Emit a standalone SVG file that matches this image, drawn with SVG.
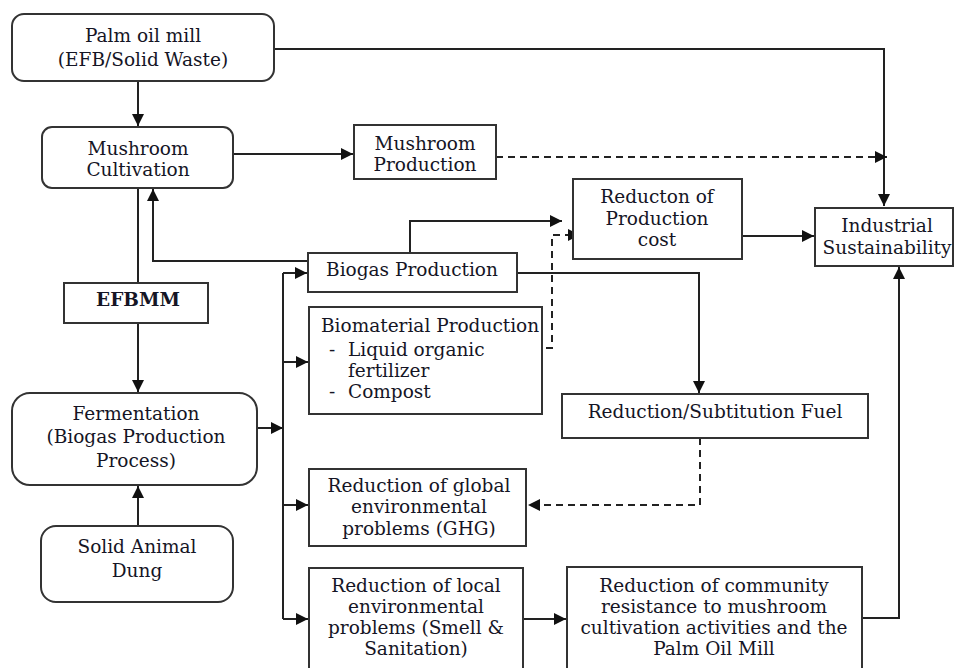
<svg xmlns="http://www.w3.org/2000/svg" width="955" height="668" viewBox="0 0 955 668">
<style>
.box{fill:#fff;stroke:#333;stroke-width:2}
.t{font-family:"DejaVu Serif","Liberation Serif","Times New Roman",serif;font-size:18.5px;fill:#151525;text-anchor:middle}
.s{text-anchor:start}
.b{font-weight:bold}
.c{fill:none;stroke:#222;stroke-width:2}
.d{stroke-dasharray:7,5}
</style>
<defs>
<marker id="ah" markerUnits="userSpaceOnUse" markerWidth="13" markerHeight="12" refX="12" refY="6" orient="auto">
<path d="M0,0 L12,6 L0,12 z" fill="#111"/>
</marker>
</defs>
<rect width="955" height="668" fill="#fff"/>
<g id="connectors">
<path class="c" d="M138,81 V126" marker-end="url(#ah)"/>
<path class="c" d="M274,49 H884 V206" marker-end="url(#ah)"/>
<path class="c" d="M233,154 H353" marker-end="url(#ah)"/>
<path class="c d" d="M496,157 H887" marker-end="url(#ah)"/>
<path class="c" d="M308,261 H153 V189" marker-end="url(#ah)"/>
<path class="c" d="M138,188 V283"/>
<path class="c" d="M138,323 V392" marker-end="url(#ah)"/>
<path class="c" d="M138,526 V486" marker-end="url(#ah)"/>
<path class="c" d="M257,428 H283" marker-end="url(#ah)"/>
<path class="c" d="M283,273 V619"/>
<path class="c" d="M283,273 H307" marker-end="url(#ah)"/>
<path class="c" d="M283,362 H308" marker-end="url(#ah)"/>
<path class="c" d="M283,505 H308" marker-end="url(#ah)"/>
<path class="c" d="M283,619 H308" marker-end="url(#ah)"/>
<path class="c" d="M410,253 V221 H562" marker-end="url(#ah)"/>
<path class="c d" d="M522,348 H552 V235 H580" marker-end="url(#ah)"/>
<path class="c" d="M517,273 H699 V393" marker-end="url(#ah)"/>
<path class="c d" d="M700,438 V505 H528" marker-end="url(#ah)"/>
<path class="c" d="M523,619 H566" marker-end="url(#ah)"/>
<path class="c" d="M862,618 H899 V267" marker-end="url(#ah)"/>
<path class="c" d="M742,236 H814" marker-end="url(#ah)"/>
</g>
<g id="palm">
<rect class="box" x="12" y="14" width="262" height="67" rx="12"/>
<text class="t" x="143" y="42">Palm oil mill</text>
<text class="t" x="143" y="66">(EFB/Solid Waste)</text>
</g>
<g id="mushroom-cultivation">
<rect class="box" x="42" y="127" width="191" height="61" rx="10"/>
<text class="t" x="138" y="155">Mushroom</text>
<text class="t" x="138" y="176">Cultivation</text>
</g>
<g id="mushroom-production">
<rect class="box" x="354" y="125" width="142" height="54"/>
<text class="t" x="425" y="150">Mushroom</text>
<text class="t" x="425" y="171">Production</text>
</g>
<g id="reduction-cost">
<rect class="box" x="573" y="179" width="169" height="80"/>
<text class="t" x="657" y="203">Reducton of</text>
<text class="t" x="657" y="225">Production</text>
<text class="t" x="657" y="246">cost</text>
</g>
<g id="industrial">
<rect class="box" x="815" y="208" width="138" height="58"/>
<text class="t" x="887" y="232">Industrial</text>
<text class="t" x="887" y="254">Sustainability</text>
</g>
<g id="biogas">
<rect class="box" x="308" y="253" width="209" height="39"/>
<text class="t" x="412" y="276">Biogas Production</text>
</g>
<g id="efbmm">
<rect class="box" x="64" y="283" width="144" height="40"/>
<text class="t b" x="138" y="306">EFBMM</text>
</g>
<g id="biomaterial">
<rect class="box" x="309" y="307" width="233" height="107"/>
<text class="t s" x="321" y="332">Biomaterial Production</text>
<text class="t s" x="329" y="356">-</text>
<text class="t s" x="348" y="356">Liquid organic</text>
<text class="t s" x="348" y="377">fertilizer</text>
<text class="t s" x="329" y="398">-</text>
<text class="t s" x="348" y="398">Compost</text>
</g>
<g id="fuel">
<rect class="box" x="562" y="394" width="306" height="44"/>
<text class="t" x="715" y="418">Reduction/Subtitution Fuel</text>
</g>
<g id="fermentation">
<rect class="box" x="12" y="393" width="245" height="92" rx="18"/>
<text class="t" x="136" y="420">Fermentation</text>
<text class="t" x="136" y="443">(Biogas Production</text>
<text class="t" x="136" y="467">Process)</text>
</g>
<g id="global">
<rect class="box" x="309" y="469" width="217" height="77"/>
<text class="t" x="419" y="492">Reduction of global</text>
<text class="t" x="419" y="513">environmental</text>
<text class="t" x="419" y="535">problems (GHG)</text>
</g>
<g id="dung">
<rect class="box" x="41" y="526" width="192" height="76" rx="15"/>
<text class="t" x="137" y="553">Solid Animal</text>
<text class="t" x="137" y="577">Dung</text>
</g>
<g id="local">
<rect class="box" x="309" y="568" width="214" height="112"/>
<text class="t" x="416" y="592">Reduction of local</text>
<text class="t" x="416" y="613">environmental</text>
<text class="t" x="416" y="634">problems (Smell &amp;</text>
<text class="t" x="416" y="655">Sanitation)</text>
</g>
<g id="community">
<rect class="box" x="567" y="567" width="295" height="113"/>
<text class="t" x="714" y="592">Reduction of community</text>
<text class="t" x="714" y="613">resistance to mushroom</text>
<text class="t" x="714" y="634">cultivation activities and the</text>
<text class="t" x="714" y="655">Palm Oil Mill</text>
</g>
</svg>
